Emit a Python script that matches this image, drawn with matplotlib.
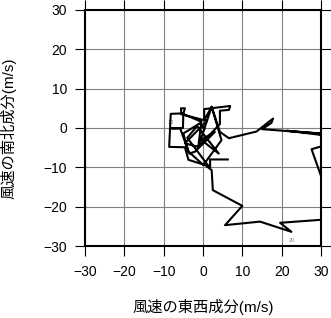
import matplotlib
matplotlib.use("Agg")
import matplotlib.pyplot as plt

plt.rcParams["font.family"] = ["Liberation Sans", "Noto Sans CJK JP", "DejaVu Sans"]

# hodograph points (u, v) in m/s
u = [0.3, -0.8, -5.0, -3.7, 0.1, 4.7, 2.2, -1.2, -0.4, -5.4,
     -8.2, -8.6, -4.6, -3.7, 0.5, 2.2, 2.5, 10.0, 5.6, 14.5,
     22.5, 19.6, 30.5, 31.0, 27.6, 34.0, 29.5, 21.3, 29.7, 15.0,
     17.4, 17.8, 13.6, 6.6, 4.3, 2.2, 0.3, 0.3, 6.9, 6.6,
     4.3, 4.3, -1.2, -4.6, 1.0, -5.5, -5.6, -4.6, -5.0, -5.1,
     -8.0, -5.8, -3.5, -2.0, 3.0, -0.5, 4.0, -1.5, -4.0, 1.8,
     1.8, 6.3]
v = [-0.3, 1.2, -1.4, -6.0, -9.4, -3.1, 5.4, -4.8, 1.6, 3.7,
     3.6, -4.8, -4.9, -8.1, -9.4, -10.7, -15.8, -19.8, -24.7, -23.8,
     -26.4, -24.1, -23.3, -15.0, -5.4, -3.5, -1.7, -0.7, -1.4, -0.3,
     1.3, 2.4, -0.9, -2.6, -1.0, 5.4, 2.0, 4.8, 5.6, 4.6,
     4.4, 1.0, -4.8, -3.9, 1.8, 3.5, 5.0, 5.0, 3.6, 0.0,
     -0.1, -0.1, -6.5, -6.0, -1.0, -3.0, -6.5, 0.5, -2.5, -10.2,
     -8.0, -8.0]

labels = ["10", "20"]
label_idx = [10, 20]

fig = plt.figure(figsize=(3.31, 3.18), dpi=100)
ax = fig.add_axes([0.2568, 0.2264, 0.713, 0.7422])

ax.plot(u, v, color="black", lw=1.5, zorder=3)

for lab, i in zip(labels, label_idx):
    ax.text(u[i], v[i] - 2.3, lab, fontsize=4, color="0.5",
            ha="center", va="center", zorder=2)

ax.set_xlim(-30, 30)
ax.set_ylim(-30, 30)
ticks = [-30, -20, -10, 0, 10, 20, 30]
tick_labels = ["\u221230", "\u221220", "\u221210", "0", "10", "20", "30"]
ax.set_xticks(ticks)
ax.set_yticks(ticks)
ax.set_xticklabels(tick_labels)
ax.set_yticklabels(tick_labels)
ax.grid(True, color="0.5", lw=0.8)
ax.set_axisbelow(True)

ax.tick_params(direction="out", length=7, width=0.8, labelsize=10,
               top=True, right=True, labeltop=False, labelright=False)
ax.tick_params(axis="x", pad=7)
ax.tick_params(axis="y", pad=6)
for s in ax.spines.values():
    s.set_linewidth(1.5)

ax.set_xlabel("風速の東西成分(m/s)", fontsize=11)
ax.set_ylabel("風速の南北成分(m/s)", fontsize=11)
ax.xaxis.set_label_coords(0.5, -0.225)
ax.yaxis.set_label_coords(-0.29, 0.5)

fig.savefig("out.png", dpi=100)
